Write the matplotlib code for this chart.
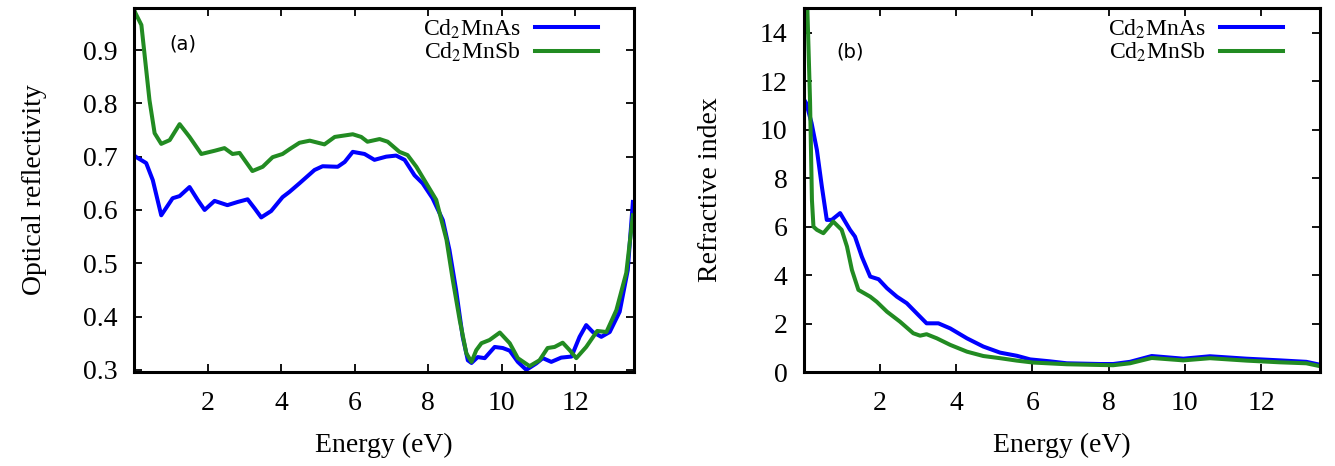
import matplotlib
matplotlib.use("Agg")
import matplotlib.pyplot as plt

plt.rcParams['font.family'] = 'Liberation Serif'
plt.rcParams['mathtext.fontset'] = 'stix'
plt.rcParams['lines.solid_joinstyle'] = 'round'

# (a) optical reflectivity
e_refl_as = [0.0, 0.04, 0.33, 0.51, 0.74, 1.05, 1.24, 1.51, 1.73, 1.92, 2.19, 2.54, 2.82, 3.09,
             3.28, 3.46, 3.73, 4.04, 4.23, 4.5, 4.91, 5.13, 5.54, 5.73, 5.95, 6.27, 6.54, 6.86,
             7.13, 7.36, 7.63, 7.85, 8.12, 8.4, 8.58, 8.76, 8.94, 9.08, 9.18, 9.35, 9.54, 9.81,
             10.03, 10.22, 10.44, 10.67, 10.94, 11.12, 11.35, 11.62, 11.9, 12.12, 12.3, 12.48,
             12.71, 12.94, 13.21, 13.43, 13.57]
refl_as = [0.703, 0.700, 0.688, 0.656, 0.590, 0.622, 0.626, 0.643, 0.619, 0.600, 0.617, 0.609,
           0.615, 0.620, 0.603, 0.586, 0.598, 0.624, 0.634, 0.650, 0.675, 0.682, 0.681, 0.690,
           0.709, 0.705, 0.694, 0.700, 0.702, 0.694, 0.665, 0.650, 0.622, 0.581, 0.525, 0.450,
           0.362, 0.318, 0.313, 0.324, 0.322, 0.343, 0.341, 0.336, 0.315, 0.300, 0.312, 0.322,
           0.315, 0.323, 0.325, 0.362, 0.384, 0.371, 0.362, 0.371, 0.409, 0.487, 0.615]

e_refl_sb = [0.0, 0.04, 0.2, 0.42, 0.56, 0.74, 0.97, 1.24, 1.51, 1.83, 2.19, 2.46, 2.68, 2.87,
             3.22, 3.5, 3.77, 4.04, 4.23, 4.5, 4.78, 5.18, 5.46, 5.95, 6.18, 6.35, 6.68, 6.9,
             7.22, 7.44, 7.68, 7.95, 8.22, 8.5, 8.67, 8.86, 9.04, 9.18, 9.31, 9.45, 9.67, 9.95,
             10.22, 10.44, 10.76, 11.03, 11.25, 11.44, 11.66, 11.85, 12.03, 12.3, 12.6, 12.85,
             13.12, 13.39, 13.57]
refl_sb = [0.976, 0.969, 0.947, 0.806, 0.744, 0.724, 0.731, 0.761, 0.737, 0.705, 0.711, 0.716,
           0.705, 0.707, 0.673, 0.681, 0.699, 0.705, 0.714, 0.726, 0.730, 0.723, 0.737, 0.742,
           0.737, 0.728, 0.733, 0.728, 0.709, 0.703, 0.681, 0.650, 0.619, 0.544, 0.469, 0.393,
           0.331, 0.315, 0.337, 0.350, 0.356, 0.370, 0.350, 0.322, 0.307, 0.318, 0.341, 0.343,
           0.351, 0.337, 0.322, 0.343, 0.373, 0.371, 0.412, 0.482, 0.590]

# (b) refractive index
e_n_as = [0.0, 0.06, 0.2, 0.34, 0.47, 0.6, 0.73, 0.95, 1.21, 1.34, 1.52, 1.74, 1.96, 2.18, 2.44,
          2.7, 3.0, 3.22, 3.53, 3.84, 4.28, 4.71, 5.15, 5.59, 5.94, 6.46, 6.9, 7.77, 8.12, 8.56,
          9.13, 9.96, 10.66, 11.62, 12.5, 13.19, 13.55]
n_as = [11.25, 11.1, 10.28, 9.17, 7.66, 6.28, 6.28, 6.56, 5.87, 5.59, 4.76, 3.94, 3.83, 3.46,
        3.11, 2.84, 2.36, 2.01, 2.01, 1.8, 1.39, 1.05, 0.8, 0.67, 0.52, 0.44, 0.36, 0.33, 0.33,
        0.42, 0.66, 0.55, 0.65, 0.55, 0.48, 0.42, 0.3]

e_n_sb = [0.05, 0.09, 0.16, 0.21, 0.25, 0.34, 0.51, 0.77, 0.99, 1.13, 1.26, 1.43, 1.74, 1.91,
          2.18, 2.52, 2.87, 3.05, 3.22, 3.49, 3.84, 4.28, 4.71, 5.15, 5.59, 6.02, 6.9, 7.77,
          8.12, 8.56, 9.13, 9.96, 10.66, 11.62, 12.5, 13.19, 13.55]
n_sb = [17.0, 15.0, 11.2, 7.1, 6.0, 5.87, 5.73, 6.21, 5.87, 5.18, 4.21, 3.39, 3.11, 2.9, 2.49,
        2.08, 1.6, 1.5, 1.56, 1.39, 1.12, 0.84, 0.66, 0.57, 0.47, 0.39, 0.32, 0.29, 0.28, 0.36,
        0.58, 0.48, 0.57, 0.47, 0.4, 0.36, 0.24]

blue = '#0000ff'
green = '#228b22'

fig = plt.figure(figsize=(13.35, 4.66), dpi=100)
ax1 = fig.add_axes([0.1004, 0.2017, 0.3745, 0.7813])
ax2 = fig.add_axes([0.6022, 0.2017, 0.3866, 0.7813])

ax1.plot(e_refl_as, refl_as, color=blue, lw=2.9, label=r'Cd$_2$MnAs')
ax1.plot(e_refl_sb, refl_sb, color=green, lw=2.9, label=r'Cd$_2$MnSb')
ax2.plot(e_n_as, n_as, color=blue, lw=2.9, label=r'Cd$_2$MnAs')
ax2.plot(e_n_sb, n_sb, color=green, lw=2.9, label=r'Cd$_2$MnSb')

ax1.set_xlim(0, 13.6)
ax1.set_ylim(0.296, 0.979)
ax1.set_yticks([0.3, 0.4, 0.5, 0.6, 0.7, 0.8, 0.9])
ax1.set_ylabel('Optical reflectivity', fontsize=20, labelpad=26)
ax1.text(1.32, 0.911, '(a)', family='DejaVu Sans', fontsize=14, ha='center', va='center')

ax2.set_xlim(0, 13.55)
ax2.set_ylim(0, 15.03)
ax2.set_yticks(range(0, 15, 2))
ax2.set_ylabel('Refractive index', fontsize=20, labelpad=26)
ax2.text(1.21, 13.2, '(b)', family='DejaVu Sans', fontsize=14, ha='center', va='center')

for ax in (ax1, ax2):
    ax.set_xticks(range(2, 13, 2))
    ax.set_xlabel('Energy (eV)', fontsize=20, labelpad=12)
    ax.tick_params(direction='in', top=True, right=True, length=6, width=1.3,
                   labelsize=20)
    ax.tick_params(axis='x', pad=14)
    ax.tick_params(axis='y', pad=12)
    for s in ax.spines.values():
        s.set_linewidth(2.2)
    ax.legend(loc='upper right', bbox_to_anchor=(0.938, 0.986), markerfirst=False,
              frameon=False, fontsize=17, handlelength=2.7, handletextpad=0.6,
              labelspacing=0.0, borderpad=0.2, borderaxespad=0.0)

fig.savefig('out.png', dpi=100)
